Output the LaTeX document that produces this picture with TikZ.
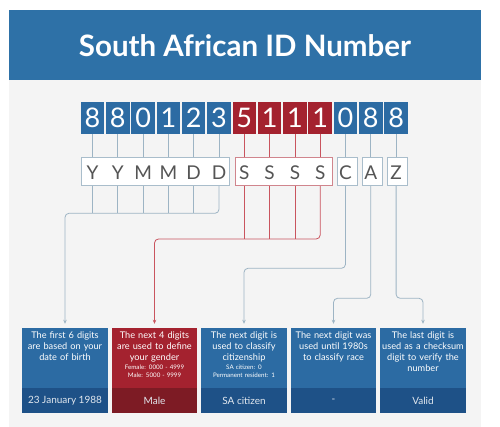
\documentclass[tikz,border=0pt]{standalone}
\usepackage{fontspec}
\setmainfont{Lato}
\usetikzlibrary{arrows.meta}
\definecolor{titleblue}{HTML}{2E71A7}
\definecolor{boxblue}{HTML}{2C6BA3}
\definecolor{stripblue}{HTML}{1E5187}
\definecolor{boxred}{HTML}{A4222F}
\definecolor{stripred}{HTML}{7D1B24}
\definecolor{panel}{HTML}{F4F4F4}
\definecolor{connblue}{HTML}{9DB4C4}
\definecolor{connred}{HTML}{C9545E}
\definecolor{lborder}{HTML}{A9BDCB}
\definecolor{lred}{HTML}{D0858D}
\definecolor{ltext}{HTML}{555555}
\definecolor{striptext}{HTML}{E2E8EF}
\tikzset{
  digit/.style={minimum width=23.5pt,minimum height=32pt,inner sep=0pt,text=white},
  lgroup/.style={draw=lborder,line width=0.9pt,fill=white,minimum height=28pt,inner sep=0pt},
  letter/.style={text=ltext,font=\fontsize{19}{19}\selectfont\addfontfeature{Weight=300},inner sep=0pt,anchor=base},
  conn/.style={draw=connblue,line width=0.8pt,rounded corners=4pt},
  connr/.style={draw=connred,line width=0.8pt,rounded corners=4pt},
  arr/.style={-{Stealth[length=4pt,width=3.5pt]},shorten >=4pt},
  infobox/.style={minimum width=85.5pt,minimum height=84.7pt,inner sep=0pt},
  strip/.style={minimum width=85.5pt,minimum height=24.4pt,inner sep=0pt,text=striptext,font=\fontsize{10}{12}\selectfont},
  desc/.style={text=white,align=center,text width=85pt,inner sep=0pt,anchor=north,font=\fontsize{9.2}{10.8}\selectfont},
  smalldesc/.style={text=white,align=center,text width=85pt,inner sep=0pt,anchor=north,font=\fontsize{6.2}{8}\selectfont},
}
\begin{document}
\begin{tikzpicture}[x=1pt,y=-1pt]
\useasboundingbox (0,0) rectangle (500,427);
\fill[white] (0,0) rectangle (500,427);
\fill[panel] (9,80) rectangle (481,427);
\node[fill=titleblue,minimum width=472pt,minimum height=70pt,inner sep=0pt] (banner) at (245,45) {};
\node[text=white,font=\fontsize{29.5}{32}\selectfont\bfseries,anchor=base] (title) at (245,57) {South African ID Number};

% digits
\foreach \i/\d/\c in {0/8/boxblue,1/8/boxblue,2/0/boxblue,3/1/boxblue,4/2/boxblue,5/3/boxblue,6/5/boxred,7/1/boxred,8/1/boxred,9/1/boxred,10/0/boxblue,11/8/boxblue,12/8/boxblue}{
  \node[digit,fill=\c] (d\i) at ({92.5+25.3*\i},118) {};
  \node[text=white,font=\fontsize{27}{27}\selectfont,anchor=base,inner sep=0pt] (dt\i) at ({92.5+25.3*\i},128) {\d};
}

% letter groups
\node[lgroup,minimum width=147.6pt] (gY) at (155.5,171.7) {};
\node[lgroup,draw=lred,minimum width=97.7pt] (gS) at (283.85,171.7) {};
\node[lgroup,minimum width=20.4pt] (gC) at (347.5,171.7) {};
\node[lgroup,minimum width=20pt] (gA) at (372.3,171.7) {};
\node[lgroup,minimum width=20pt] (gZ) at (397.7,171.7) {};
\foreach \i/\l in {0/Y,1/Y,2/M,3/M,4/D,5/D,6/S,7/S,8/S,9/S,10/C,11/A,12/Z}{
  \node[letter] (l\i) at ({92.5+25.3*\i},179.3) {\l};
}

% digit to letter connectors
\foreach \i in {0,...,5}{ \draw[conn] (d\i.south) -- (d\i.south |- gY.north); }
\foreach \i in {6,...,9}{ \draw[connr] (d\i.south) -- (d\i.south |- gS.north); }
\draw[conn] (d10.south) -- (d10.south |- gC.north);
\draw[conn] (d11.south) -- (d11.south |- gA.north);
\draw[conn] (d12.south) -- (d12.south |- gZ.north);

% info boxes
\foreach \k/\x/\c/\s in {1/65/boxblue/stripblue,2/154.5/boxred/stripred,3/244/boxblue/stripblue,4/333.5/boxblue/stripblue,5/423/boxblue/stripblue}{
  \node[infobox,fill=\c] (b\k) at (\x,370.35) {};
  \node[strip,fill=\s,anchor=south] (s\k) at (b\k.south) {};
}
\node[strip,fill=none] (st1) at (s1) {23 January 1988};
\node[strip,fill=none] (st2) at (s2) {Male};
\node[strip,fill=none] (st3) at (s3) {SA citizen};
\node[strip,fill=none] (st4) at (s4) {-};
\node[strip,fill=none] (st5) at (s5) {Valid};

\node[desc] (t1) at ([yshift=-4pt]b1.north) {The first 6 digits\\are based on your\\date of birth};
\node[desc] (t2) at ([yshift=-4pt]b2.north) {The next 4 digits\\are used to define\\your gender};
\node[smalldesc] (u2) at ([yshift=-2.5pt]t2.south) {Female: 0000 - 4999\\Male: 5000 - 9999};
\node[desc] (t3) at ([yshift=-4pt]b3.north) {The next digit is\\used to classify\\citizenship};
\node[smalldesc] (u3) at ([yshift=-2.5pt]t3.south) {SA citizen: 0\\Permanent resident: 1};
\node[desc] (t4) at ([yshift=-4pt]b4.north) {The next digit was\\used until 1980s\\to classify race};
\node[desc] (t5) at ([yshift=-4pt]b5.north) {The last digit is\\used as a checksum\\digit to verify the\\number};

% lower connectors
\coordinate (h1) at (0,213.3);
\coordinate (h2) at (0,239);
\coordinate (h3) at (0,268.3);
\coordinate (h4) at (0,298.3);
\foreach \i in {0,...,4}{ \draw[conn] (d\i.south |- gY.south) -- (d\i.south |- h1); }
\draw[conn,arr] (d5.south |- gY.south) |- (b1.north |- h1) -- (b1.north);
\foreach \i in {6,...,8}{ \draw[connr] (d\i.south |- gS.south) -- (d\i.south |- h2); }
\draw[connr,arr] (d9.south |- gS.south) |- (b2.north |- h2) -- (b2.north);
\draw[conn,arr] (d10.south |- gC.south) |- (b3.north |- h3) -- (b3.north);
\draw[conn,arr] (d11.south |- gA.south) |- (b4.north |- h4) -- (b4.north);
\draw[conn,arr] (d12.south |- gZ.south) |- (b5.north |- h4) -- (b5.north);
\end{tikzpicture}
\end{document}
